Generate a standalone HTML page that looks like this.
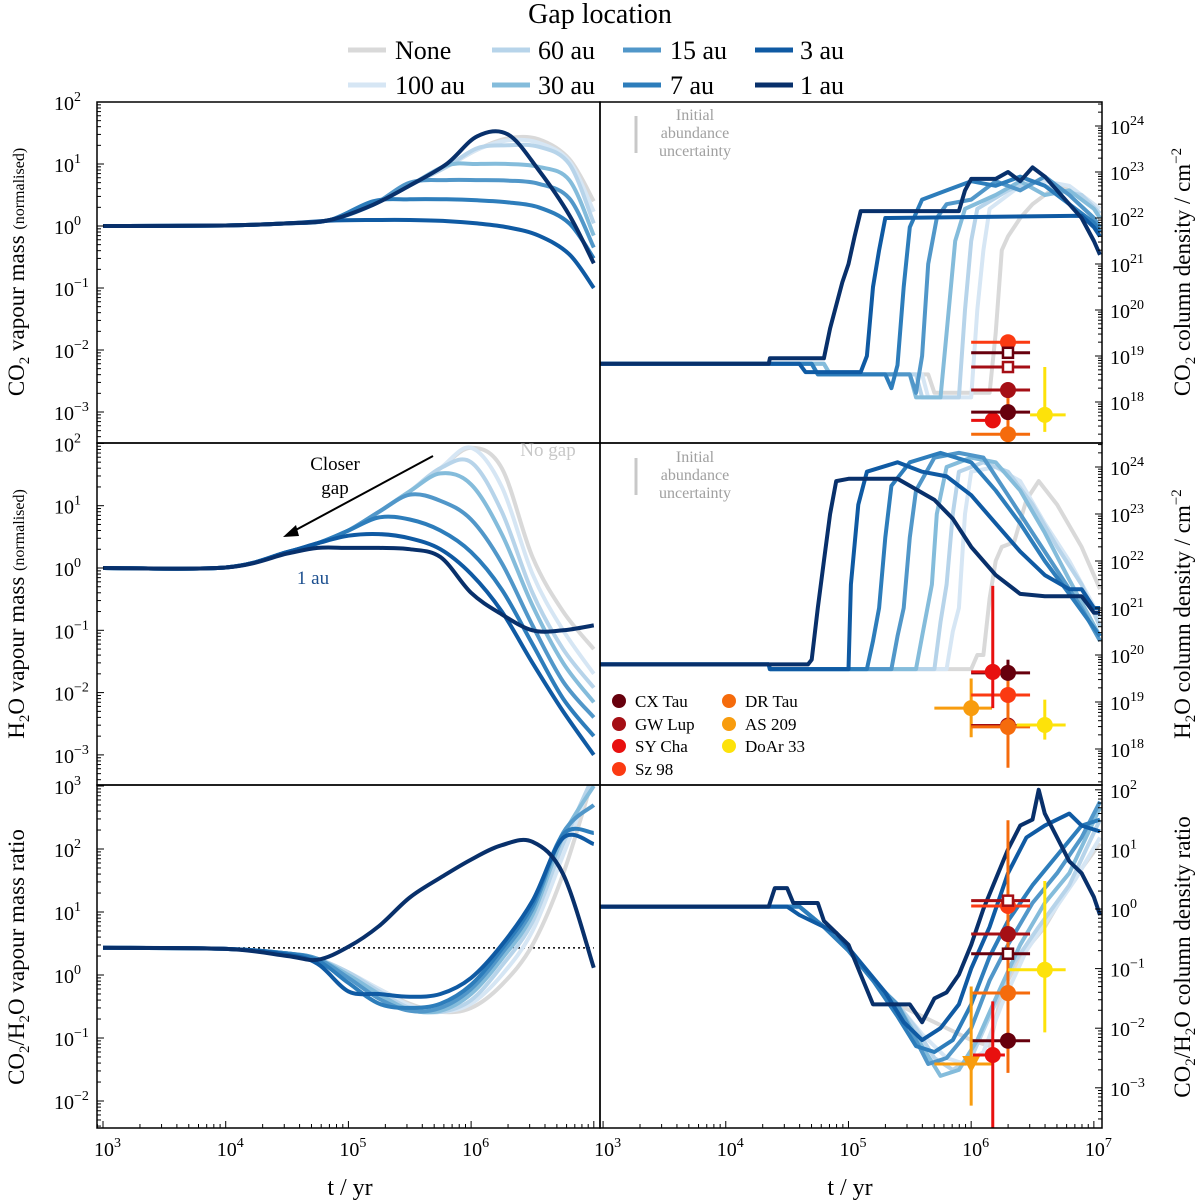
<!DOCTYPE html>
<html><head><meta charset="utf-8"><style>
html,body{margin:0;padding:0;background:#fff;}
svg{display:block;font-family:"Liberation Serif",serif;}
</style></head><body>
<svg id="chart" width="1200" height="1202" viewBox="0 0 1200 1202" xmlns="http://www.w3.org/2000/svg">
<g>
<text x="600" y="23" font-size="28" text-anchor="middle">Gap location</text>
<g><line x1="348" y1="50" x2="386" y2="50" stroke="#d9d9d9" stroke-width="5"/><text x="395" y="59" font-size="26">None</text></g>
<g><line x1="348" y1="85" x2="386" y2="85" stroke="#d6e6f4" stroke-width="5"/><text x="395" y="94" font-size="26">100 au</text></g>
<g><line x1="492" y1="50" x2="530" y2="50" stroke="#b7d4ea" stroke-width="5"/><text x="538" y="59" font-size="26">60 au</text></g>
<g><line x1="492" y1="85" x2="530" y2="85" stroke="#84bcdb" stroke-width="5"/><text x="538" y="94" font-size="26">30 au</text></g>
<g><line x1="623" y1="50" x2="661" y2="50" stroke="#5197c9" stroke-width="5"/><text x="670" y="59" font-size="26">15 au</text></g>
<g><line x1="623" y1="85" x2="661" y2="85" stroke="#2d7dbb" stroke-width="5"/><text x="670" y="94" font-size="26">7 au</text></g>
<g><line x1="755" y1="50" x2="793" y2="50" stroke="#0f5aa3" stroke-width="5"/><text x="800" y="59" font-size="26">3 au</text></g>
<g><line x1="755" y1="85" x2="793" y2="85" stroke="#08306b" stroke-width="5"/><text x="800" y="94" font-size="26">1 au</text></g>
</g>
</svg>
<script>
// ---------- data ----------
const seriesNames = ["None","100 au","60 au","30 au","15 au","7 au","3 au","1 au"];
const seriesColors = ["#d9d9d9","#d6e6f4","#b7d4ea","#84bcdb","#5197c9","#2d7dbb","#0f5aa3","#08306b"];
const co2LogT = [3,4,4.5,4.85,5.2,5.5,5.8,6.05,6.3,6.55,6.8,7];
const co2Mass = [
 [1,1.02,1.1,1.25,2.2,4.5,9,17,26,25,12,2.5],
 [1,1.02,1.1,1.25,2.2,4.5,9,17,24,22,11,1.7],
 [1,1.02,1.1,1.25,2.2,4.5,9,18,20,19,10,1.1],
 [1,1.02,1.1,1.25,2.2,4.5,9.5,10,10,9,5.5,0.7],
 [1,1.02,1.1,1.25,2.2,5,5.5,5.5,5.4,4.8,2.8,0.45],
 [1,1.02,1.1,1.25,2.5,2.7,2.7,2.6,2.4,2,1.1,0.3],
 [1,1.02,1.1,1.22,1.25,1.25,1.2,1.1,0.95,0.7,0.35,0.1],
 [1,1.02,1.1,1.25,2.2,4.5,10,28,30,8,1.5,0.25]
];
const h2oLogT = [3,4,4.5,4.75,5,5.25,5.5,5.75,6,6.25,6.5,6.75,7];
const h2oMass = [
 [1,1.02,1.8,2.5,4,8,17,40,85,40,1.5,0.2,0.05],
 [1,1.02,1.8,2.5,4,8,17,40,85,20,0.8,0.1,0.02],
 [1,1.02,1.8,2.5,4,8,17,40,50,8,0.4,0.05,0.012],
 [1,1.02,1.8,2.5,4,8,17,33,22,3.5,0.25,0.03,0.007],
 [1,1.02,1.8,2.5,4,8,15,12,6,1.2,0.12,0.015,0.004],
 [1,1.02,1.8,2.5,4,6.5,6,4,1.8,0.45,0.06,0.008,0.002],
 [1,1.02,1.8,2.5,3.3,3.5,3,2,0.8,0.2,0.03,0.005,0.001],
 [1,1.02,1.7,2.1,2.1,2.1,2,1.5,0.4,0.18,0.1,0.1,0.12]
];
const ratioLogT = [3,4,4.5,4.75,5,5.25,5.5,5.75,6,6.25,6.5,6.75,7];
const ratioMass = [
 [2.7,2.6,2.2,1.8,1.1,0.6,0.35,0.26,0.3,0.7,3,40,1500],
 [2.7,2.6,2.2,1.8,1.1,0.6,0.33,0.26,0.35,1,5,80,1500],
 [2.7,2.6,2.2,1.8,1.1,0.55,0.3,0.26,0.4,1.4,7,120,1500],
 [2.7,2.6,2.2,1.8,1.0,0.5,0.28,0.27,0.5,1.8,9,160,1000],
 [2.7,2.6,2.2,1.8,0.9,0.42,0.27,0.3,0.6,2.2,11,180,500],
 [2.7,2.6,2.2,1.7,0.75,0.35,0.3,0.35,0.7,2.6,13,170,180],
 [2.7,2.6,2.1,1.5,0.55,0.5,0.45,0.5,0.9,3,15,150,120],
 [2.7,2.6,2.0,1.75,2.8,6,17,35,68,115,130,40,1.3]
];
const ratioRef = 2.7;
// right panels: [log t, log value] breakpoints
const co2Col = [
 [[2.95,18.83],[4.8,18.83],[4.85,18.6],[5.65,18.6],[5.7,18.2],[6.15,18.2],[6.2,19.5],[6.25,21.3],[6.3,21.6],[6.4,22],[6.5,22.3],[6.7,22.7],[6.9,22.5],[7.05,22.2]],
 [[2.95,18.83],[4.8,18.83],[4.85,18.6],[5.6,18.6],[5.65,18.1],[6.0,18.1],[6.05,20],[6.1,21.3],[6.15,22.2],[6.4,22.7],[6.6,22.8],[6.8,22.7],[7.0,22.3],[7.05,22.2]],
 [[2.95,18.83],[4.8,18.83],[4.85,18.6],[5.55,18.6],[5.6,18.1],[5.9,18.1],[5.95,20],[6.0,21.5],[6.05,22.2],[6.3,22.6],[6.5,22.8],[6.7,22.6],[6.9,22.5],[7.05,22.1]],
 [[2.95,18.83],[4.8,18.83],[4.85,18.6],[5.5,18.6],[5.55,18.1],[5.75,18.1],[5.8,19.5],[5.87,21.5],[5.95,22.2],[6.2,22.5],[6.4,22.8],[6.6,22.5],[6.8,22.6],[7.0,22.2],[7.05,22.0]],
 [[2.95,18.83],[4.7,18.83],[4.75,18.6],[5.5,18.6],[5.55,18.2],[5.6,19],[5.65,21],[5.72,22],[5.8,22.3],[6.0,22.4],[6.2,22.8],[6.4,22.6],[6.6,22.9],[6.8,22.5],[7.0,22.0],[7.05,21.8]],
 [[2.95,18.83],[4.7,18.83],[4.75,18.6],[5.3,18.6],[5.35,18.3],[5.4,18.8],[5.45,20.5],[5.5,21.8],[5.6,22.4],[5.8,22.6],[6.0,22.8],[6.2,22.7],[6.4,22.9],[6.6,22.7],[6.8,22.3],[7.0,21.9],[7.05,21.7]],
 [[2.95,18.83],[4.6,18.83],[4.65,18.65],[5.1,18.65],[5.15,19.0],[5.2,20.5],[5.25,21.3],[5.3,22.0],[6.9,22.05],[7.0,21.8],[7.05,21.6]],
 [[2.95,18.83],[4.35,18.83],[4.36,18.95],[4.8,18.95],[4.85,19.6],[4.95,20.6],[5.0,21.0],[5.05,21.6],[5.1,22.15],[5.9,22.15],[5.95,22.6],[6.0,22.85],[6.2,22.85],[6.3,23.0],[6.4,22.8],[6.5,23.1],[6.6,22.9],[6.7,22.6],[6.8,22.3],[6.9,22.0],[7.0,21.5],[7.05,21.2]]
];
const h2oCol = [
 [[2.95,19.8],[4.35,19.8],[4.36,19.7],[6.0,19.7],[6.05,20],[6.1,20],[6.15,21.2],[6.2,22.0],[6.25,22.3],[6.35,22.4],[6.45,23.3],[6.55,23.7],[6.7,23.2],[6.9,22.3],[7.05,21.4]],
 [[2.95,19.8],[4.35,19.8],[4.36,19.7],[5.8,19.7],[5.85,20.5],[5.9,21],[5.95,23],[6.0,23.9],[6.2,24.0],[6.4,23.7],[6.6,22.8],[6.8,22.0],[7.05,20.8]],
 [[2.95,19.8],[4.35,19.8],[4.36,19.7],[5.7,19.7],[5.75,20.7],[5.8,21.5],[5.85,23],[5.9,23.9],[6.1,24.1],[6.3,23.9],[6.5,23.2],[6.7,22.3],[6.9,21.5],[7.05,20.6]],
 [[2.95,19.8],[4.35,19.8],[4.36,19.7],[5.55,19.7],[5.6,20.4],[5.68,21.5],[5.72,23],[5.8,24.0],[6.0,24.2],[6.2,24.1],[6.4,23.5],[6.6,22.6],[6.8,21.6],[7.05,20.4]],
 [[2.95,19.8],[4.35,19.8],[4.36,19.7],[5.35,19.7],[5.4,20.4],[5.45,21],[5.5,22.5],[5.55,23.5],[5.7,24.2],[5.9,24.3],[6.1,24.2],[6.3,23.4],[6.5,22.6],[6.7,21.8],[6.9,21.0],[7.05,20.3]],
 [[2.95,19.8],[4.35,19.8],[4.36,19.7],[5.15,19.7],[5.2,20.3],[5.25,21],[5.3,22.5],[5.35,23.6],[5.5,24.1],[5.75,24.3],[6.0,24.1],[6.2,23.5],[6.4,22.8],[6.6,22.0],[6.8,21.3],[7.05,20.4]],
 [[2.95,19.8],[4.35,19.8],[4.36,19.7],[5.0,19.7],[5.02,21.5],[5.08,23.2],[5.15,23.9],[5.4,24.1],[5.6,23.9],[5.8,23.8],[6.0,23.4],[6.2,22.8],[6.4,22.2],[6.6,21.7],[6.8,21.4],[6.9,21.4],[7.0,21.0],[7.05,21.0]],
 [[2.95,19.8],[4.67,19.8],[4.7,19.9],[4.75,21],[4.8,22],[4.85,23],[4.9,23.7],[5.0,23.75],[5.4,23.75],[5.5,23.6],[5.7,23.3],[5.85,22.9],[6.0,22.3],[6.2,21.7],[6.4,21.3],[6.6,21.25],[6.9,21.25],[7.0,20.9],[7.05,20.9]]
];
const ratioCol = [
 [[2.95,0.04],[4.6,0.04],[4.8,-0.3],[5.0,-0.7],[5.2,-1.2],[5.4,-1.6],[5.7,-1.9],[6.0,-2.2],[6.15,-2.3],[6.25,-1.4],[6.4,-0.8],[6.6,-0.3],[6.8,0.4],[7.05,1.1]],
 [[2.95,0.04],[4.6,0.04],[4.8,-0.3],[5.0,-0.7],[5.2,-1.2],[5.4,-1.6],[5.6,-2.1],[5.8,-2.5],[5.95,-2.6],[6.1,-2.4],[6.25,-1.6],[6.45,-0.7],[6.65,-0.1],[6.85,0.5],[7.05,1.2]],
 [[2.95,0.04],[4.6,0.04],[4.8,-0.3],[5.0,-0.7],[5.2,-1.2],[5.4,-1.6],[5.55,-2.0],[5.7,-2.5],[5.85,-2.7],[6.0,-2.5],[6.15,-1.8],[6.35,-0.9],[6.55,-0.3],[6.8,0.4],[7.05,1.5]],
 [[2.95,0.04],[4.6,0.04],[4.8,-0.3],[5.0,-0.7],[5.2,-1.2],[5.4,-1.6],[5.6,-2.3],[5.75,-2.8],[5.9,-2.7],[6.05,-2.2],[6.2,-1.5],[6.4,-0.6],[6.6,0.1],[6.8,0.6],[7.05,1.7]],
 [[2.95,0.04],[4.6,0.04],[4.8,-0.3],[5.0,-0.7],[5.2,-1.2],[5.4,-1.6],[5.5,-2.0],[5.65,-2.6],[5.8,-2.5],[6.0,-2.0],[6.15,-1.2],[6.3,-0.6],[6.5,0.1],[6.7,0.6],[6.9,1.2],[7.05,1.8]],
 [[2.95,0.04],[4.6,0.04],[4.8,-0.3],[5.0,-0.7],[5.2,-1.2],[5.4,-1.8],[5.55,-2.3],[5.7,-2.4],[5.85,-2.2],[6.0,-1.6],[6.15,-0.8],[6.3,-0.2],[6.5,0.4],[6.7,0.9],[6.9,1.4],[7.05,1.5]],
 [[2.95,0.04],[4.5,0.04],[4.6,-0.1],[4.9,-0.4],[5.1,-0.9],[5.3,-1.4],[5.45,-1.9],[5.6,-2.2],[5.75,-2.0],[5.9,-1.6],[6.0,-1.0],[6.15,-0.3],[6.3,0.6],[6.45,1.2],[6.6,1.4],[6.8,1.6],[6.9,1.4],[7.05,1.3]],
 [[2.95,0.04],[4.35,0.04],[4.4,0.35],[4.5,0.35],[4.55,0.1],[4.75,0.1],[4.8,-0.2],[5.0,-0.6],[5.1,-1.1],[5.2,-1.6],[5.5,-1.6],[5.6,-1.9],[5.7,-1.5],[5.8,-1.4],[5.9,-1.1],[6.0,-0.6],[6.1,0.0],[6.2,0.5],[6.3,1.0],[6.4,1.4],[6.5,1.5],[6.55,2.0],[6.6,1.6],[6.7,1.2],[6.8,0.8],[6.9,0.6],[7.0,0.2],[7.05,-0.1]]
];
// observations: [source, log t, log value, xlo, xhi, ylo, yhi, marker]
const obsColors = {"CX Tau":"#67000d","GW Lup":"#a50f15","SY Cha":"#e8100f","Sz 98":"#fb3a12","DR Tau":"#f56b0c","AS 209":"#f89c0e","DoAr 33":"#fde20a"};
const co2Obs = [
 ["DR Tau",6.3,17.3,6.0,6.48,17.0,18.09,"o"],
 ["Sz 98",6.3,19.30,6.0,6.48,null,null,"o"],
 ["CX Tau",6.3,19.07,6.0,6.48,null,null,"s"],
 ["GW Lup",6.3,18.76,6.0,6.48,null,null,"s"],
 ["GW Lup",6.3,18.26,6.0,6.48,null,null,"o"],
 ["SY Cha",6.176,17.6,6.0,6.24,null,null,"o"],
 ["CX Tau",6.3,17.78,6.0,6.48,null,null,"o"],
 ["DoAr 33",6.6,17.72,6.48,6.77,17.35,18.76,"o"]
];
const h2oObs = [
 ["AS 209",6.0,18.87,5.7,6.17,18.25,19.5,"o"],
 ["GW Lup",6.3,18.5,6.0,6.48,null,null,"o"],
 ["DR Tau",6.3,18.47,6.0,6.48,17.6,19.87,"o"],
 ["Sz 98",6.3,19.15,6.0,6.48,null,null,"o"],
 ["CX Tau",6.3,19.62,6.0,6.48,19.5,19.9,"o"],
 ["SY Cha",6.176,19.64,6.0,6.24,18.87,21.47,"o"],
 ["DoAr 33",6.6,18.51,6.37,6.77,18.2,19.05,"o"]
];
const ratioObs = [
 ["DR Tau",6.3,-1.41,6.0,6.48,-2.75,1.49,"o"],
 ["Sz 98",6.3,0.05,6.0,6.48,null,null,"o"],
 ["GW Lup",6.3,0.14,6.0,6.48,null,null,"s"],
 ["GW Lup",6.3,-0.42,6.0,6.48,null,null,"o"],
 ["CX Tau",6.3,-0.75,6.0,6.48,null,null,"s"],
 ["CX Tau",6.3,-2.21,6.0,6.48,null,null,"o"],
 ["AS 209",6.0,-2.6,5.7,6.17,-3.3,-1.3,"v"],
 ["SY Cha",6.176,-2.45,6.015,6.275,-3.7,-1.55,"o"],
 ["DoAr 33",6.6,-1.02,6.3,6.77,-2.07,0.47,"o"]
];

// ---------- geometry ----------
const NS = "http://www.w3.org/2000/svg";
const svg = document.getElementById("chart");
const DEC = 122.7;
const P = {
 TL:{x0:97,x1:600,y0:102,y1:443,xs:2.951,yz:226,yd:62,ymin:-3.52,ymax:2},
 TR:{x0:600,x1:1102,y0:102,y1:443,xs:2.975,yz:126+24*46,yd:46,ymin:17.1,ymax:24.52},
 ML:{x0:97,x1:600,y0:443,y1:785,xs:2.951,yz:568,yd:62.3,ymin:-3.5,ymax:2},
 MR:{x0:600,x1:1102,y0:443,y1:785,xs:2.975,yz:467+24*47,yd:47,ymin:17.2,ymax:24.5},
 BL:{x0:97,x1:600,y0:785,y1:1128,xs:2.951,yz:975,yd:63,ymin:-2.43,ymax:3},
 BR:{x0:600,x1:1102,y0:785,y1:1128,xs:2.975,yz:909,yd:59.6,ymin:-3.6,ymax:2.08}
};
function xp(p,l){return p.x0+(l-p.xs)*DEC;}
function yp(p,v){return p.yz-v*p.yd;}
function el(tag,attrs,parent){const e=document.createElementNS(NS,tag);for(const k in attrs)e.setAttribute(k,attrs[k]);(parent||svg).appendChild(e);return e;}
const defs=el("defs",{});
Object.keys(P).forEach(k=>{const p=P[k];const c=el("clipPath",{id:"clip"+k},defs);el("rect",{x:p.x0,y:p.y0,width:p.x1-p.x0,height:p.y1-p.y0},c);});

function smoothPath(pts){
 let d="M"+pts[0][0].toFixed(1)+","+pts[0][1].toFixed(1);
 for(let i=0;i<pts.length-1;i++){
  const p0=pts[Math.max(0,i-1)],p1=pts[i],p2=pts[i+1],p3=pts[Math.min(pts.length-1,i+2)];
  const c1=[p1[0]+(p2[0]-p0[0])/6,p1[1]+(p2[1]-p0[1])/6];
  const c2=[p2[0]-(p3[0]-p1[0])/6,p2[1]-(p3[1]-p1[1])/6];
  d+="C"+c1[0].toFixed(1)+","+c1[1].toFixed(1)+" "+c2[0].toFixed(1)+","+c2[1].toFixed(1)+" "+p2[0].toFixed(1)+","+p2[1].toFixed(1);
 }
 return d;
}

function drawLeft(key,times,data,label){
 const p=P[key];
 const g=el("g",{"clip-path":"url(#clip"+key+")"});
 
 
 data.forEach((vals,i)=>{
  const pts=times.map((t,j)=>[xp(p,t),yp(p,Math.log10(vals[j]))]);
  const path=el("path",{d:smoothPath(pts),fill:"none",stroke:seriesColors[i],"stroke-width":4,"stroke-linejoin":"round"},g);
  
  
 });
 return g;
}
function drawRight(key,data,label){
 const p=P[key];
 const g=el("g",{"clip-path":"url(#clip"+key+")"});
 
 
 data.forEach((pts,i)=>{
  const path=el("polyline",{points:pts.map(q=>xp(p,q[0]).toFixed(1)+","+yp(p,q[1]).toFixed(1)).join(" "),fill:"none",stroke:seriesColors[i],"stroke-width":4,"stroke-linejoin":"round"},g);
  
  
 });
 return g;
}
function drawObs(key,obs,label){
 const p=P[key];
 const g=el("g",{"clip-path":"url(#clip"+key+")"});
 
 
 obs.forEach(o=>{
  const c=obsColors[o[0]];const x=xp(p,o[1]),y=yp(p,o[2]);
  const og=el("g",{},g);
  
  
  el("line",{x1:xp(p,o[3]),x2:xp(p,o[4]),y1:y,y2:y,stroke:c,"stroke-width":3},og);
  if(o[5]!==null) el("line",{x1:x,x2:x,y1:yp(p,o[5]),y2:yp(p,o[6]),stroke:c,"stroke-width":3},og);
  if(o[7]==="s") el("rect",{x:x-5,y:y-5,width:10,height:10,fill:"#fff",stroke:c,"stroke-width":2.5},og);
  else if(o[7]==="v") el("polygon",{points:(x-9)+","+(y-8)+" "+(x+9)+","+(y-8)+" "+x+","+(y+9),fill:c},og);
  else el("circle",{cx:x,cy:y,r:8,fill:c},og);
 });
}
function sup(base,exp,attrs,parent){
 const e=el("text",attrs,parent);e.textContent=base;
 const s=el("tspan",{dy:-9,"font-size":14},e);s.textContent=exp;
 return e;
}
function axes(key,side,label){
 const p=P[key];
 const g=el("g",{});
 
 
 const xt = side==="L"?p.x0:p.x1, dir = side==="L"?1:-1;
 for(let d=Math.floor(p.ymin);d<=Math.ceil(p.ymax);d++){
  for(let m=1;m<10;m++){
   const v=d+Math.log10(m); if(v<p.ymin-1e-6||v>p.ymax+1e-6) continue;
   const y=yp(p,v);
   el("line",{x1:xt,x2:xt+dir*(m===1?7:4),y1:y,y2:y,stroke:"#000","stroke-width":1},g);
   if(m===1){
    const ex=d<0?"\u2212"+(-d):""+d;
    if(side==="L") sup("10",ex,{x:xt-43,y:y+8,"font-size":20},g);
    else sup("10",ex,{x:xt+8,y:y+8,"font-size":20},g);
   }
  }
 }
 el("rect",{x:p.x0,y:p.y0,width:p.x1-p.x0,height:p.y1-p.y0,fill:"none",stroke:"#000","stroke-width":1.5},g);
}
function xaxis(key,label,maxDec){
 const p=P[key];
 const g=el("g",{});
 
 
 for(let d=2;d<=7;d++)for(let m=1;m<10;m++){
  const l=d+Math.log10(m);const x=xp(p,l);if(x<p.x0-0.5||x>p.x1+0.5)continue;
  el("line",{x1:x,x2:x,y1:p.y1,y2:p.y1-(m===1?7:4),stroke:"#000","stroke-width":1},g);
  if(m===1&&d<=maxDec){sup("10",""+d,{x:x-9,y:p.y1+28,"font-size":20},g);}
 }
}

// draw
drawLeft("TL",co2LogT,co2Mass,"co2-mass");
drawRight("TR",co2Col,"co2-column");
drawLeft("ML",h2oLogT,h2oMass,"h2o-mass");
drawRight("MR",h2oCol,"h2o-column");
const dl=el("line",{x1:xp(P.BL,3),x2:xp(P.BL,7),y1:yp(P.BL,Math.log10(ratioRef)),y2:yp(P.BL,Math.log10(ratioRef)),stroke:"#000","stroke-width":1.5,"stroke-dasharray":"2,3"});


drawLeft("BL",ratioLogT,ratioMass,"ratio-mass");
drawRight("BR",ratioCol,"ratio-column");
drawObs("TR",co2Obs,"co2");
drawObs("MR",h2oObs,"h2o");
drawObs("BR",ratioObs,"ratio");
axes("TL","L","co2-mass-y");axes("ML","L","h2o-mass-y");axes("BL","L","ratio-mass-y");
axes("TR","R","co2-column-y");axes("MR","R","h2o-column-y");axes("BR","R","ratio-column-y");
xaxis("BL","left",6);xaxis("BR","right",7);
</script>
<script>
(function(){
const NS="http://www.w3.org/2000/svg";const svg=document.getElementById("chart");
const g=document.createElementNS(NS,"g");
g.innerHTML=`
<g>
 <g>
  <text x="335" y="470" font-size="19" text-anchor="middle">Closer</text>
  <text x="335" y="494" font-size="19" text-anchor="middle">gap</text>
  <line x1="433" y1="456" x2="292" y2="532" stroke="#000" stroke-width="2"/>
  <polygon points="283,537 296,525 299,536" fill="#000"/>
 </g>
 <text x="313" y="584" font-size="19" text-anchor="middle" fill="#1c4f8f">1 au</text>
 <text x="548" y="456" font-size="19" text-anchor="middle" fill="#c8c8c8">No gap</text>
 <g fill="#a0a0a0" font-size="16" text-anchor="middle">
  <line x1="636" y1="116" x2="636" y2="153" stroke="#c8c8c8" stroke-width="3"/>
  <text x="695" y="120">Initial</text><text x="695" y="138">abundance</text><text x="695" y="156">uncertainty</text>
 </g>
 <g fill="#a0a0a0" font-size="16" text-anchor="middle">
  <line x1="636" y1="458" x2="636" y2="495" stroke="#c8c8c8" stroke-width="3"/>
  <text x="695" y="462">Initial</text><text x="695" y="480">abundance</text><text x="695" y="498">uncertainty</text>
 </g>
 <g font-size="17">
  <circle cx="619" cy="701" r="7" fill="#67000d"/><text x="635" y="707">CX Tau</text>
  <circle cx="619" cy="724" r="7" fill="#a50f15"/><text x="635" y="730">GW Lup</text>
  <circle cx="619" cy="746" r="7" fill="#e8100f"/><text x="635" y="752">SY Cha</text>
  <circle cx="619" cy="769" r="7" fill="#fb3a12"/><text x="635" y="775">Sz 98</text>
  <circle cx="729" cy="701" r="7" fill="#f56b0c"/><text x="745" y="707">DR Tau</text>
  <circle cx="729" cy="724" r="7" fill="#f89c0e"/><text x="745" y="730">AS 209</text>
  <circle cx="729" cy="746" r="7" fill="#fde20a"/><text x="745" y="752">DoAr 33</text>
 </g>
 <text x="350" y="1195" font-size="24" text-anchor="middle">t / yr</text>
 <text x="850" y="1195" font-size="24" text-anchor="middle">t / yr</text>
 <text transform="translate(24,272) rotate(-90)" font-size="23" text-anchor="middle">CO<tspan font-size="15" dy="5">2</tspan><tspan dy="-5"> vapour mass </tspan><tspan font-size="16">(normalised)</tspan></text>
 <text transform="translate(24,614) rotate(-90)" font-size="23" text-anchor="middle">H<tspan font-size="15" dy="5">2</tspan><tspan dy="-5">O vapour mass </tspan><tspan font-size="16">(normalised)</tspan></text>
 <text transform="translate(24,957) rotate(-90)" font-size="23" text-anchor="middle">CO<tspan font-size="15" dy="5">2</tspan><tspan dy="-5">/H</tspan><tspan font-size="15" dy="5">2</tspan><tspan dy="-5">O vapour mass ratio</tspan></text>
 <text transform="translate(1190,272) rotate(-90)" font-size="23" text-anchor="middle">CO<tspan font-size="15" dy="5">2</tspan><tspan dy="-5"> column density / cm</tspan><tspan font-size="15" dy="-9">−2</tspan></text>
 <text transform="translate(1190,614) rotate(-90)" font-size="23" text-anchor="middle">H<tspan font-size="15" dy="5">2</tspan><tspan dy="-5">O column density / cm</tspan><tspan font-size="15" dy="-9">−2</tspan></text>
 <text transform="translate(1190,957) rotate(-90)" font-size="23" text-anchor="middle">CO<tspan font-size="15" dy="5">2</tspan><tspan dy="-5">/H</tspan><tspan font-size="15" dy="5">2</tspan><tspan dy="-5">O column density ratio</tspan></text>
</g>`;
svg.appendChild(g);
})();
</script>
</body></html>
